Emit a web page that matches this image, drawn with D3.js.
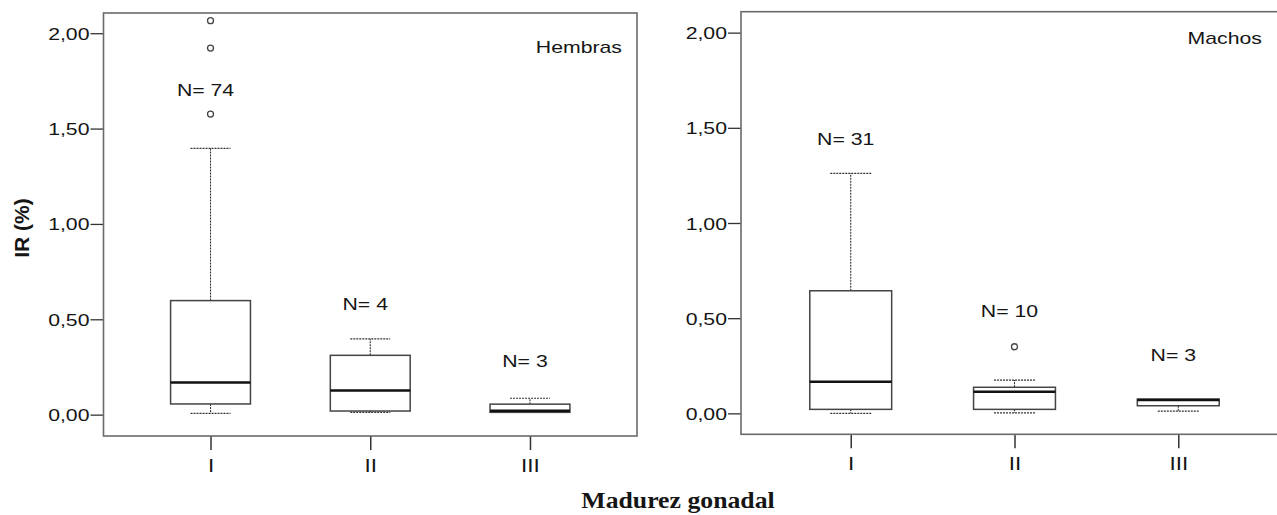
<!DOCTYPE html>
<html>
<head>
<meta charset="utf-8">
<script src="https://cdn.jsdelivr.net/npm/d3@7"></script>
<style>
  html, body { margin: 0; padding: 0; background: #fff; }
  svg { display: block; }
  text { font-family: Arial, "Liberation Sans", Helvetica, sans-serif; fill: #151515; }
</style>
</head>
<body>
<svg id="chart" width="1277" height="515"></svg>
<script>
// Gonadal maturity stages and the IR (%) tick values
const categories = ["I", "II", "III"];
const yTicks = [0, 0.5, 1, 1.5, 2];

// Females (Hembras): five-number summaries per stage
const hembrasN = [74, 4, 3];
const hembrasLow = [0.007, 0.012, 0.012];
const hembrasQ1 = [0.056, 0.019, 0.012];
const hembrasMedian = [0.168, 0.126, 0.021];
const hembrasQ3 = [0.598, 0.311, 0.055];
const hembrasHigh = [1.396, 0.397, 0.086];
const hembrasOutliers = [[2.066, 1.922, 1.576], [], []];

// Males (Machos): five-number summaries per stage
const machosN = [31, 10, 3];
const machosLow = [0.0, 0.003, 0.012];
const machosQ1 = [0.021, 0.021, 0.040];
const machosMedian = [0.166, 0.114, 0.070];
const machosQ3 = [0.644, 0.137, 0.075];
const machosHigh = [1.261, 0.175, 0.075];
const machosOutliers = [[], [0.35], []];

function buildRows(n, lo, q1, med, q3, hi, out) {
  return categories.map((c, i) => ({
    cat: c, n: n[i], low: lo[i], q1: q1[i], median: med[i], q3: q3[i], high: hi[i], outliers: out[i]
  }));
}

const panels = [
  {
    title: "Hembras",
    rows: buildRows(hembrasN, hembrasLow, hembrasQ1, hembrasMedian, hembrasQ3, hembrasHigh, hembrasOutliers),
    left: 103.5, right: 637, top: 13, bottom: 436,
    yDomain: [-0.112, 2.106],
    titleX: 622, titleY: 53,
    labelLift: [58, 35, 37]
  },
  {
    title: "Machos",
    rows: buildRows(machosN, machosLow, machosQ1, machosMedian, machosQ3, machosHigh, machosOutliers),
    left: 741, right: 1288, top: 11.7, bottom: 434.3,
    yDomain: [-0.110, 2.110],
    titleX: 1262, titleY: 44,
    labelLift: [34, 69, 44]
  }
];

const STRETCH = 1.25;          // glyphs are drawn slightly wide
const svg = d3.select("#chart");
const fmt = v => d3.format(".2f")(v).replace(".", ",");

function wideText(g, x, y, str, anchor, size) {
  return g.append("text")
    .attr("transform", `translate(${x},${y}) scale(${STRETCH},1)`)
    .attr("text-anchor", anchor)
    .style("font-size", size + "px")
    .text(str);
}

panels.forEach(p => {
  const g = svg.append("g");
  const x = d3.scalePoint().domain(categories).range([p.left, p.right]).padding(0.67);
  const y = d3.scaleLinear().domain(p.yDomain).range([p.bottom, p.top]);
  const boxW = x.step() * 0.5;
  const capW = boxW * 0.5;

  // Y axis
  const yAxis = g.append("g")
    .attr("transform", `translate(${p.left},0)`)
    .call(d3.axisLeft(y).tickValues(yTicks).tickSize(13).tickFormat(fmt));
  yAxis.select(".domain").remove();
  yAxis.selectAll(".tick line").attr("stroke", "#333").attr("stroke-width", 1.3);
  yAxis.selectAll(".tick text")
    .attr("x", null).attr("dy", null)
    .attr("transform", `translate(-14,6) scale(${STRETCH},1)`)
    .style("font-size", "17px").attr("fill", "#151515");

  // X axis
  const xAxis = g.append("g")
    .attr("transform", `translate(0,${p.bottom})`)
    .call(d3.axisBottom(x).tickSize(14).tickSizeOuter(0));
  xAxis.select(".domain").remove();
  xAxis.selectAll(".tick line").attr("stroke", "#333").attr("stroke-width", 1.5);
  xAxis.selectAll(".tick text")
    .attr("y", null).attr("dy", null)
    .attr("transform", `translate(0,36) scale(${STRETCH},1)`)
    .style("font-size", "18px").attr("fill", "#151515");

  // Frame
  g.append("rect")
    .attr("x", p.left).attr("y", p.top)
    .attr("width", p.right - p.left).attr("height", p.bottom - p.top)
    .attr("fill", "none").attr("stroke", "#6a6a6a").attr("stroke-width", 1.6);

  // Boxes
  const box = g.selectAll(".box").data(p.rows).join("g").attr("class", "box");

  // whiskers (dotted)
  box.filter(d => d.high > d.q3).append("line")
    .attr("x1", d => x(d.cat)).attr("x2", d => x(d.cat))
    .attr("y1", d => y(d.q3)).attr("y2", d => y(d.high))
    .attr("stroke", "#333").attr("stroke-width", 1.1).attr("stroke-dasharray", "2,1");
  box.filter(d => d.high > d.q3).append("line")
    .attr("x1", d => x(d.cat) - capW / 2).attr("x2", d => x(d.cat) + capW / 2)
    .attr("y1", d => y(d.high)).attr("y2", d => y(d.high))
    .attr("stroke", "#333").attr("stroke-width", 1.2).attr("stroke-dasharray", "2,1");
  box.filter(d => d.low < d.q1).append("line")
    .attr("x1", d => x(d.cat)).attr("x2", d => x(d.cat))
    .attr("y1", d => y(d.q1)).attr("y2", d => y(d.low))
    .attr("stroke", "#333").attr("stroke-width", 1.1).attr("stroke-dasharray", "2,1");
  box.filter(d => d.low < d.q1).append("line")
    .attr("x1", d => x(d.cat) - capW / 2).attr("x2", d => x(d.cat) + capW / 2)
    .attr("y1", d => y(d.low)).attr("y2", d => y(d.low))
    .attr("stroke", "#333").attr("stroke-width", 1.2).attr("stroke-dasharray", "2,1");

  // IQR rectangle
  box.append("rect")
    .attr("x", d => x(d.cat) - boxW / 2).attr("width", boxW)
    .attr("y", d => y(d.q3)).attr("height", d => Math.max(1, y(d.q1) - y(d.q3)))
    .attr("fill", "#fff").attr("stroke", "#444").attr("stroke-width", 1.5);

  // median
  box.append("line")
    .attr("x1", d => x(d.cat) - boxW / 2).attr("x2", d => x(d.cat) + boxW / 2)
    .attr("y1", d => y(d.median)).attr("y2", d => y(d.median))
    .attr("stroke", "#111").attr("stroke-width", 2.5);

  // outliers
  box.selectAll("circle").data(d => d.outliers.map(v => ({ cat: d.cat, v }))).join("circle")
    .attr("cx", d => x(d.cat)).attr("cy", d => y(d.v)).attr("r", 3)
    .attr("fill", "#fff").attr("stroke", "#444").attr("stroke-width", 1.3);

  // sample sizes
  p.rows.forEach((d, i) => {
    wideText(g, x(d.cat) - 5, y(d.high) - p.labelLift[i] + 6, "N= " + d.n, "middle", 17);
  });

  // panel title
  wideText(g, p.titleX, p.titleY, p.title, "end", 17);
});

// Axis titles
svg.append("text")
  .attr("transform", `translate(29,228) rotate(-90)`)
  .attr("text-anchor", "middle")
  .style("font-size", "21px").style("font-weight", "bold")
  .text("IR (%)");

svg.append("text")
  .attr("transform", `translate(678,508) scale(1.12,1)`)
  .attr("text-anchor", "middle")
  .style("font-family", "'Liberation Serif', 'Times New Roman', serif")
  .style("font-size", "23px").style("font-weight", "bold")
  .text("Madurez gonadal");
</script>
</body>
</html>
